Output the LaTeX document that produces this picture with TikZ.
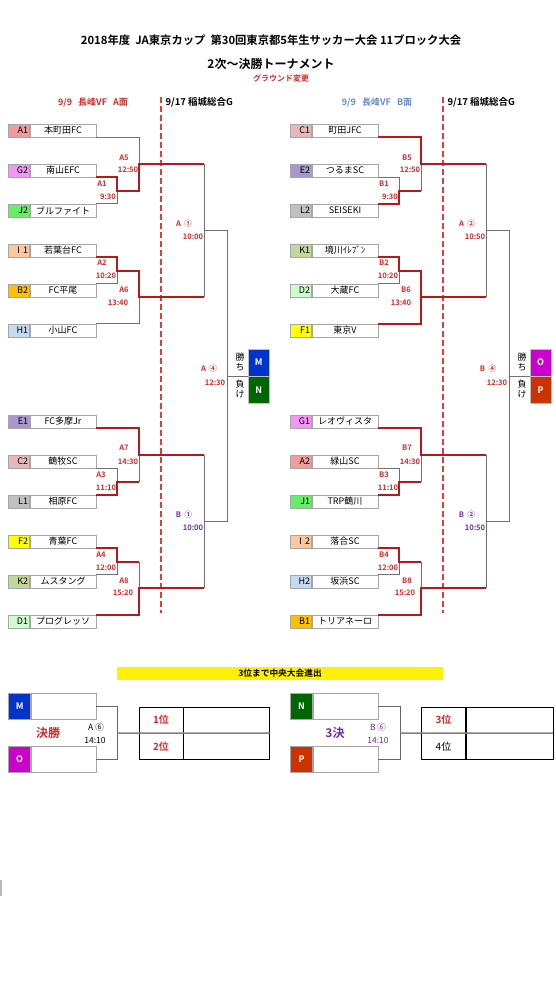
\documentclass[tikz,border=0pt]{standalone}
\usepackage{fontspec}
\setmainfont{Noto Sans CJK JP}[BoldFont={Noto Sans CJK JP Bold}]
\usetikzlibrary{positioning}
\definecolor{cA}{HTML}{F19C9C}
\definecolor{cB}{HTML}{FFC000}
\definecolor{cC}{HTML}{E6B8B7}
\definecolor{cD}{HTML}{CCFFCC}
\definecolor{cE}{HTML}{A797CC}
\definecolor{cF}{HTML}{FFFF00}
\definecolor{cG}{HTML}{F595F5}
\definecolor{cH}{HTML}{C5D9F1}
\definecolor{cI}{HTML}{FAC89E}
\definecolor{cJ}{HTML}{66EE66}
\definecolor{cK}{HTML}{C4D79B}
\definecolor{cL}{HTML}{C0C0C0}
\definecolor{cM}{HTML}{0033CC}
\definecolor{cN}{HTML}{006600}
\definecolor{cO}{HTML}{CC00CC}
\definecolor{cP}{HTML}{CC3300}
\definecolor{wred}{HTML}{B51A1A}
\definecolor{tred}{HTML}{D42A2A}
\definecolor{tpur}{HTML}{7030A0}
\definecolor{tblue}{HTML}{6A8CC7}
\definecolor{lgray}{HTML}{707070}
\tikzset{
  team/.style={draw=gray!70, fill=white, minimum width=66, minimum height=13, inner sep=0, font=\fontsize{9}{9}\selectfont},
  code/.style={draw=gray!70, minimum width=21, minimum height=13, inner sep=0, text width=18, align=right, font=\fontsize{9}{9}\selectfont},
  gl/.style={draw=lgray, line width=0.8},
  rl/.style={draw=wred, line width=2},
  rdash/.style={draw=tred!90, line width=1.3, dash pattern=on 6pt off 3pt},
  mlab/.style={text=tred, font=\bfseries\fontsize{7.6}{7.6}\selectfont, inner sep=0},
  plab/.style={mlab, text=tpur},
  res/.style={draw=gray!50, minimum width=21, minimum height=27, inner sep=0, text=white, font=\bfseries\fontsize{9}{9}\selectfont},
  fbox/.style={draw=gray!70, fill=white, minimum width=65, minimum height=26, inner sep=0},
  fcode/.style={draw=gray!70, minimum width=22, minimum height=26, inner sep=0, text=white, font=\bfseries\fontsize{9}{9}\selectfont},
  rank/.style={draw=black, minimum width=44, minimum height=26, inner sep=0, font=\bfseries\fontsize{10}{10}\selectfont},
  rankv/.style={draw=black, minimum width=86, minimum height=26, inner sep=0},
}
\begin{document}
\begin{tikzpicture}[x=1pt,y=-1pt]
\useasboundingbox[fill=white] (0,0) rectangle (555,986);

% headings
\node[font=\bfseries\fontsize{11.3}{11.3}\selectfont] (title) at (271,40) {2018年度\ \ JA東京カップ\ \ 第30回東京都5年生サッカー大会 11ブロック大会};
\node[font=\bfseries\fontsize{12}{12}\selectfont] (sub) at (271,64) {2次～決勝トーナメント};
\node[text=tred, font=\bfseries\fontsize{8}{8}\selectfont] (chg) at (281,78) {グラウンド変更};
\node[text=tred, font=\bfseries\fontsize{9}{9}\selectfont] (hA) at (93,102) {9/9\ \ \ 長峰VF\ \ \ A面};
\node[anchor=west, font=\bfseries\fontsize{9.5}{9.5}\selectfont] (hA2) at (162,102) {9/17 稲城総合G};
\node[text=tblue, font=\bfseries\fontsize{9}{9}\selectfont] (hB) at (377,102) {9/9\ \ \ 長峰VF\ \ \ B面};
\node[anchor=west, font=\bfseries\fontsize{9.5}{9.5}\selectfont] (hB2) at (444,102) {9/17 稲城総合G};
\draw[rdash] (161,97) -- (161,613);
\draw[rdash] (443,97) -- (443,613);

% teams, left
\node[team] (a1) at (63,130.5) {本町田FC};
\node[code, fill=cA, left=0 of a1] {A1};
\node[team] (g2) at (63,170.5) {南山EFC};
\node[code, fill=cG, left=0 of g2] {G2};
\node[team] (j2) at (63,210.5) {ブルファイト};
\node[code, fill=cJ, left=0 of j2] {J2};
\node[team] (i1) at (63,250.5) {若葉台FC};
\node[code, fill=cI, left=0 of i1] {I 1};
\node[team] (b2) at (63,290.5) {FC平尾};
\node[code, fill=cB, left=0 of b2] {B2};
\node[team] (h1) at (63,330.5) {小山FC};
\node[code, fill=cH, left=0 of h1] {H1};
\node[team] (e1) at (63,421.5) {FC多摩Jr};
\node[code, fill=cE, left=0 of e1] {E1};
\node[team] (c2) at (63,461.5) {鶴牧SC};
\node[code, fill=cC, left=0 of c2] {C2};
\node[team] (l1) at (63,501.5) {相原FC};
\node[code, fill=cL, left=0 of l1] {L1};
\node[team] (f2) at (63,541.5) {青葉FC};
\node[code, fill=cF, left=0 of f2] {F2};
\node[team] (k2) at (63,581.5) {ムスタング};
\node[code, fill=cK, left=0 of k2] {K2};
\node[team] (d1) at (63,621.5) {プログレッソ};
\node[code, fill=cD, left=0 of d1] {D1};

% teams, right
\node[team] (c1) at (345,130.5) {町田JFC};
\node[code, fill=cC, left=0 of c1] {C1};
\node[team] (e2) at (345,170.5) {つるまSC};
\node[code, fill=cE, left=0 of e2] {E2};
\node[team] (l2) at (345,210.5) {SEISEKI};
\node[code, fill=cL, left=0 of l2] {L2};
\node[team] (k1) at (345,250.5) {境川ｲﾚﾌﾞﾝ};
\node[code, fill=cK, left=0 of k1] {K1};
\node[team] (d2) at (345,290.5) {大蔵FC};
\node[code, fill=cD, left=0 of d2] {D2};
\node[team] (f1) at (345,330.5) {東京V};
\node[code, fill=cF, left=0 of f1] {F1};
\node[team] (g1) at (345,421.5) {レオヴィスタ};
\node[code, fill=cG, left=0 of g1] {G1};
\node[team] (a2) at (345,461.5) {緑山SC};
\node[code, fill=cA, left=0 of a2] {A2};
\node[team] (j1) at (345,501.5) {TRP鶴川};
\node[code, fill=cJ, left=0 of j1] {J1};
\node[team] (i2) at (345,541.5) {落合SC};
\node[code, fill=cI, left=0 of i2] {I 2};
\node[team] (h2) at (345,581.5) {坂浜SC};
\node[code, fill=cH, left=0 of h2] {H2};
\node[team] (b1) at (345,621.5) {トリアネーロ};
\node[code, fill=cB, left=0 of b1] {B1};

% match points
\coordinate (mA1) at (117,190.5);
\coordinate (mA5) at (139,163.75);
\coordinate (mA2) at (117,270.5);
\coordinate (mA6) at (139,297.25);
\coordinate (mQA1) at (204,230.5);
\coordinate (mA3) at (117,481.5);
\coordinate (mA7) at (139,454.75);
\coordinate (mA4) at (117,561.5);
\coordinate (mA8) at (139,588.25);
\coordinate (mQB1) at (204,521.5);
\coordinate (mSA) at (227,376);
\coordinate (mB1) at (399,190.5);
\coordinate (mB5) at (421,163.75);
\coordinate (mB2) at (399,270.5);
\coordinate (mB6) at (421,297.25);
\coordinate (mQA2) at (486,230.5);
\coordinate (mB3) at (399,481.5);
\coordinate (mB7) at (421,454.75);
\coordinate (mB4) at (399,561.5);
\coordinate (mB8) at (421,588.25);
\coordinate (mQB2) at (486,521.5);
\coordinate (mSB) at (509,376);

% winner boxes
\node[res, fill=cM, anchor=south west] (wm) at (248,376) {M};
\node[res, fill=cN, anchor=north west] (wn) at (248,376) {N};
\node[res, fill=cO, anchor=south west] (wo) at (530,376) {O};
\node[res, fill=cP, anchor=north west] (wp) at (530,376) {P};
\node[align=center, font=\fontsize{9}{10.5}\selectfont, inner sep=0] (kA) at (240,362) {勝\\ち};
\node[align=center, font=\fontsize{9}{10.5}\selectfont, inner sep=0] (lA) at (240,389) {負\\け};
\node[align=center, font=\fontsize{9}{10.5}\selectfont, inner sep=0] (kB) at (522,362) {勝\\ち};
\node[align=center, font=\fontsize{9}{10.5}\selectfont, inner sep=0] (lB) at (522,389) {負\\け};

% gray lines, left
\draw[gl] (a1.south east) -| (mA5);
\draw[gl] (j2.north east) -| (mA1);
\draw[gl] (b2.north east) -| (mA2);
\draw[gl] (h1.north east) -| (mA6);
\draw[gl] (mA5 -| mQA1) -- (mA6 -| mQA1);
\draw[gl] (c2.south east) -| (mA3);
\draw[gl] (mA3 -| mA7) -- (mA7);
\draw[gl] (k2.north east) -| (mA4);
\draw[gl] (mA4 -| mA8) -- (mA8);
\draw[gl] (mA7 -| mQB1) -- (mA8 -| mQB1);
\draw[gl] (mQA1) -| (mSA);
\draw[gl] (mQB1) -| (mSA);
\draw[gl] (mSA) -- (wm.south west);
% gray lines, right
\draw[gl] (e2.south east) -| (mB1);
\draw[gl] (mB1 -| mB5) -- (mB5);
\draw[gl] (d2.north east) -| (mB2);
\draw[gl] (mB5 -| mQA2) -- (mB6 -| mQA2);
\draw[gl] (a2.south east) -| (mB3);
\draw[gl] (mB3 -| mB7) -- (mB7);
\draw[gl] (h2.north east) -| (mB4);
\draw[gl] (mB4 -| mB8) -- (mB8);
\draw[gl] (mB7 -| mQB2) -- (mB8 -| mQB2);
\draw[gl] (mQA2) -| (mSB);
\draw[gl] (mQB2) -| (mSB);
\draw[gl] (mSB) -- (wo.south west);

% red lines, left
\draw[rl] (g2.south east) -| (mA1) -| (mA5) -- (mA5 -| mQA1);
\draw[rl] (i1.south east) -| (mA2) -| (mA6) -- (mA6 -| mQA1);
\draw[rl] (e1.south east) -| (mA7) -- (mA7 -| mQB1);
\draw[rl] (l1.north east) -| (mA3) -- (mA3 -| mA7);
\draw[rl] (f2.south east) -| (mA4) -- (mA4 -| mA8);
\draw[rl] (d1.north east) -| (mA8) -- (mA8 -| mQB1);
% red lines, right
\draw[rl] (c1.south east) -| (mB5) -- (mB5 -| mQA2);
\draw[rl] (l2.north east) -| (mB1) -- (mB1 -| mB5);
\draw[rl] (k1.south east) -| (mB2) -| (mB6) -- (mB6 -| mQA2);
\draw[rl] (f1.north east) -| (mB6);
\draw[rl] (g1.south east) -| (mB7) -- (mB7 -| mQB2);
\draw[rl] (j1.north east) -| (mB3) -- (mB3 -| mB7);
\draw[rl] (i2.south east) -| (mB4) -- (mB4 -| mB8);
\draw[rl] (b1.north east) -| (mB8) -- (mB8 -| mQB2);

% match labels, left
\node[mlab] (tA5) at (124,158) {A5};
\node[mlab] (sA5) at (128,170) {12:50};
\node[mlab] (tA1) at (102,184) {A1};
\node[mlab] (sA1) at (108,197) {9:30};
\node[mlab] (tA2) at (102,263) {A2};
\node[mlab] (sA2) at (106,276) {10:20};
\node[mlab] (tA6) at (124,290) {A6};
\node[mlab] (sA6) at (118,303) {13:40};
\node[mlab] (tQA1) at (184,224) {A\ \ ①};
\node[mlab] (sQA1) at (193,237) {10:00};
\node[mlab] (tA7) at (124,448) {A7};
\node[mlab] (sA7) at (128,462) {14:30};
\node[mlab] (tA3) at (101,475) {A3};
\node[mlab] (sA3) at (106,488) {11:10};
\node[mlab] (tA4) at (101,555) {A4};
\node[mlab] (sA4) at (106,568) {12:00};
\node[mlab] (tA8) at (124,581) {A8};
\node[mlab] (sA8) at (123,593) {15:20};
\node[plab] (tQB1) at (184,515) {B\ \ ①};
\node[plab] (sQB1) at (193,528) {10:00};
\node[mlab] (tSA) at (209,369) {A\ \ ④};
\node[mlab] (sSA) at (215,383) {12:30};
% match labels, right
\node[mlab] (tB5) at (407,158) {B5};
\node[mlab] (sB5) at (410,170) {12:50};
\node[mlab] (tB1) at (384,184) {B1};
\node[mlab] (sB1) at (390,197) {9:30};
\node[mlab] (tB2) at (384,263) {B2};
\node[mlab] (sB2) at (388,276) {10:20};
\node[mlab] (tB6) at (406,290) {B6};
\node[mlab] (sB6) at (401,303) {13:40};
\node[mlab] (tQA2) at (467,224) {A\ \ ②};
\node[mlab] (sQA2) at (475,237) {10:50};
\node[mlab] (tB7) at (407,448) {B7};
\node[mlab] (sB7) at (410,462) {14:30};
\node[mlab] (tB3) at (384,475) {B3};
\node[mlab] (sB3) at (388,488) {11:10};
\node[mlab] (tB4) at (384,555) {B4};
\node[mlab] (sB4) at (388,568) {12:00};
\node[mlab] (tB8) at (407,581) {B8};
\node[mlab] (sB8) at (405,593) {15:20};
\node[plab] (tQB2) at (467,515) {B\ \ ②};
\node[plab] (sQB2) at (475,528) {10:50};
\node[mlab] (tSB) at (488,369) {B\ \ ④};
\node[mlab] (sSB) at (497,383) {12:30};

% finals
\node[fill=yellow, minimum width=326, minimum height=13, inner sep=0, font=\bfseries\fontsize{8.7}{8.7}\selectfont] (bar) at (280,673.5) {3位まで中央大会進出};
\node[fbox] (fm) at (63.5,706) {};
\node[fcode, fill=cM, left=0 of fm] {M};
\node[fbox] (fo) at (63.5,759.5) {};
\node[fcode, fill=cO, left=0 of fo] {O};
\coordinate (mF1) at (117,733);
\draw[gl, draw=gray!80!black] (fm.east) -| (mF1);
\draw[gl, draw=gray!80!black] (fo.east) -| (mF1);
\node[rank, text=tred] (w1) at (161,720) {1位};
\node[rankv, right=0 of w1] (w1v) {};
\node[rank, text=tred, below=0 of w1] (w2) {2位};
\node[rankv, right=0 of w2] (w2v) {};
\draw[draw=gray, line width=1.5] (mF1) -- (w1v.south east);
\node[text=tred, font=\bfseries\fontsize{12}{12}\selectfont] (fin) at (48,733) {決勝};
\node[font=\fontsize{8.5}{8.5}\selectfont, inner sep=0] (tF1) at (96,727) {A\ ⑥};
\node[font=\fontsize{8.5}{8.5}\selectfont, inner sep=0] (sF1) at (95,740) {14:10};

\node[fbox] (fn) at (345.5,706) {};
\node[fcode, fill=cN, left=0 of fn] {N};
\node[fbox] (fp) at (345.5,759.5) {};
\node[fcode, fill=cP, left=0 of fp] {P};
\coordinate (mF2) at (400,733);
\draw[gl, draw=gray!80!black] (fn.east) -| (mF2);
\draw[gl, draw=gray!80!black] (fp.east) -| (mF2);
\node[rank, text=tred] (w3) at (443.5,720) {3位};
\node[rankv, minimum width=87, right=0 of w3] (w3v) {};
\node[rank, font=\fontsize{10}{10}\selectfont, below=0 of w3] (w4) {4位};
\node[rankv, minimum width=87, right=0 of w4] (w4v) {};
\draw[draw=gray, line width=1.5] (mF2) -- (w3v.south east);
\node[text=tpur, font=\bfseries\fontsize{12}{12}\selectfont] (thr) at (335,733) {3決};
\node[text=tpur, font=\fontsize{8.5}{8.5}\selectfont, inner sep=0] (tF2) at (378,727) {B\ ⑥};
\node[text=tpur, font=\fontsize{8.5}{8.5}\selectfont, inner sep=0] (sF2) at (378,740) {14:10};

\fill[gray!55] (0,880) rectangle (2,896);
\end{tikzpicture}
\end{document}
